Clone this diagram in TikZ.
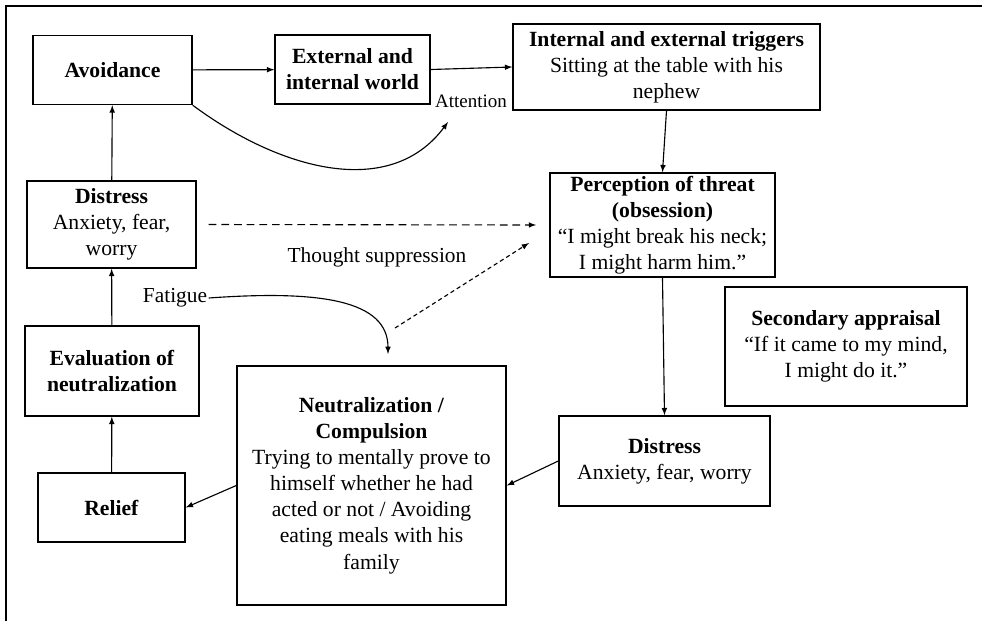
\documentclass[tikz,border=0pt]{standalone}
\usepackage{fontspec}
\setmainfont{Liberation Serif}
\usetikzlibrary{calc}
\tikzstyle{box}=[draw, line width=1pt, align=center, inner sep=2pt, font=\fontsize{15.4}{18.6}\selectfont]
\tikzstyle{lbl}=[align=center, inner sep=1pt, font=\fontsize{15.2}{18.5}\selectfont]
\tikzstyle{arr}=[->, line width=0.8pt]

\begin{document}
\begin{tikzpicture}[>=latex, x=0.025cm, y=-0.025cm]
		%\draw[help lines] (0,0) grid (982,621);
		\useasboundingbox (0,0) rectangle (982,621);
		\draw[line width=1pt] (6,621) -- (6,6) -- (982,6);%frame
		
		\node[box, minimum width=3.975cm, minimum height=1.725cm] (avoid) at (112.5,70) {\textbf{Avoidance}};
		\node[box, minimum width=3.875cm, minimum height=1.725cm] (world) at (352.5,69.5) {\textbf{External and}\\\textbf{internal world}};
		\node[box, minimum width=7.675cm, minimum height=2.15cm] (trig) at (666.5,67) {\textbf{Internal and external triggers}\\Sitting at the table with his\\nephew};
		\node[box, minimum width=5.625cm, minimum height=2.6cm] (threat) at (662.5,225) {\textbf{Perception of threat}\\\textbf{(obsession)}\\``I might break his neck;\\I might harm him.''};
		\node[box, minimum width=6.05cm, minimum height=2.975cm] (second) at (846,346.5) {\textbf{Secondary appraisal}\\``If it came to my mind,\\I might do it.''};
		\node[box, minimum width=5.275cm, minimum height=2.25cm] (distR) at (664.5,461) {\textbf{Distress}\\Anxiety, fear, worry};
		\node[box, minimum width=6.725cm, minimum height=5.975cm] (neutral) at (371.5,485.5) {\textbf{Neutralization /}\\\textbf{Compulsion}\\Trying to mentally prove to\\himself whether he had\\acted or not / Avoiding\\eating meals with his\\family};
		\node[box, minimum width=3.675cm, minimum height=1.725cm] (relief) at (111.5,507.5) {\textbf{Relief}};
		\node[box, minimum width=4.35cm, minimum height=2.25cm] (evalN) at (112,371) {\textbf{Evaluation of}\\\textbf{neutralization}};
		\node[box, minimum width=4.225cm, minimum height=2.175cm] (distL) at (111.5,224.5) {\textbf{Distress}\\Anxiety, fear,\\worry};
		
		\node[lbl, font=\fontsize{13.5}{16}\selectfont] (attn) at (471,101) {Attention};
		\node[lbl] (supp) at (377,257) {Thought suppression};
		\node[lbl] (fatig) at (175,298) {Fatigue};
		
		\coordinate (attend) at (448,122);
		\coordinate (fatend) at (388,354);
		\coordinate (supstart) at (395,328);
		\coordinate (supend) at (529,243);
		
		\draw[arr] (avoid) -- (world);
		\draw[arr] (world.east) -- (trig.west);
		\draw[arr] (trig.south) -- (threat.north);
		\draw[arr] (threat.south) -- (distR.north);
		\draw[arr] (distR.west) -- (neutral.east);
		\draw[arr] (neutral.west) -- (relief.east);
		\draw[arr] (relief) -- (evalN);
		\draw[arr] (evalN) -- (distL);
		\draw[arr] (distL) -- (avoid);
		
		\draw[arr] (avoid.south east) .. controls (280,170) and (390,200) .. (attend);%attention
		\draw[arr] (fatig.east) .. controls (320,290) and (388,300) .. (fatend);%fatigue
		\draw[arr, dash pattern=on 5.5pt off 3.5pt, shorten <=0.3cm, shorten >=0.33cm] (distL.east) -- (threat.west);
		\draw[arr, dash pattern=on 3pt off 2.2pt] (supstart) -- (supend);%suppression
		\end{tikzpicture}
\end{document}
